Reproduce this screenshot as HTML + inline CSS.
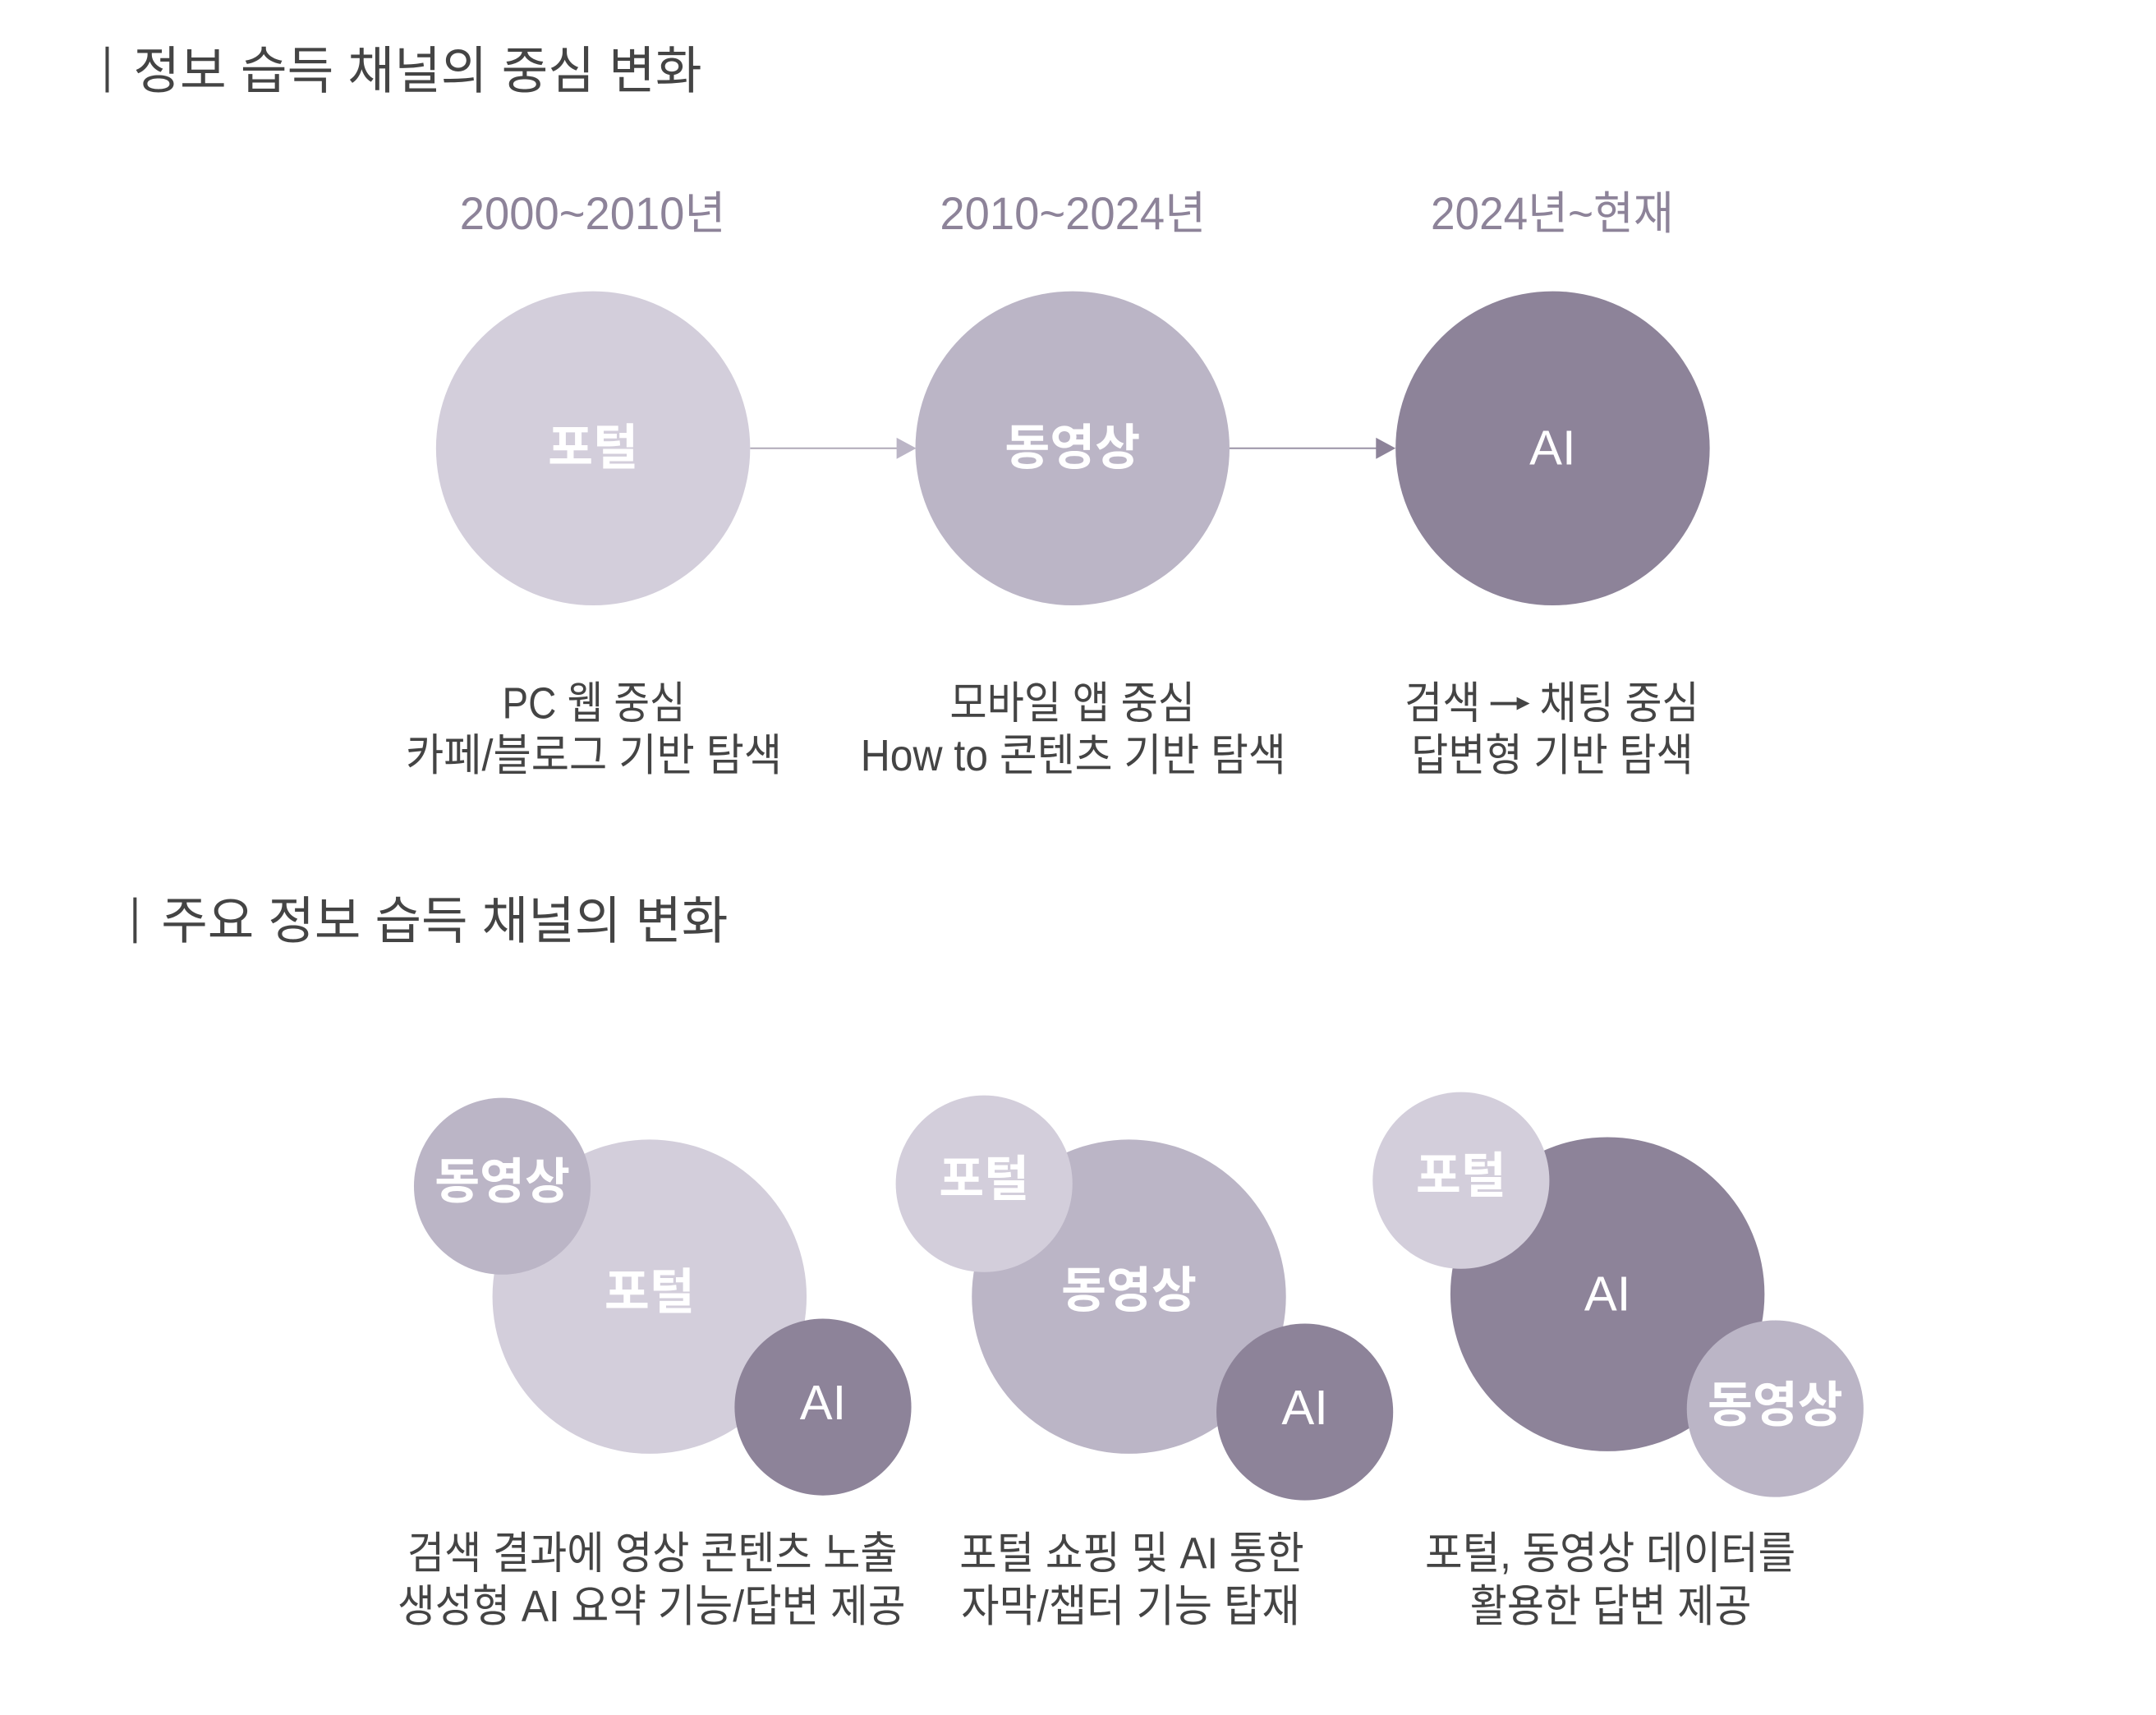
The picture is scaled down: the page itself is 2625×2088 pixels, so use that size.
<!DOCTYPE html>
<html><head><meta charset="utf-8">
<style>
html,body{margin:0;padding:0;background:#fff;}
svg{display:block;}
text{font-family:"Liberation Sans","Noto Sans CJK KR",sans-serif;}
.t{fill:#444;font-size:62px;}
.y{fill:#8d8399;font-size:56px;}
.c{fill:#444;font-size:54px;}
.w{fill:#fff;font-size:60px;font-weight:bold;}
</style></head>
<body>
<svg width="2625" height="2088" viewBox="0 0 2625 2088" xmlns="http://www.w3.org/2000/svg">
<rect width="2625" height="2088" fill="#fff"/>
<g transform="scale(0.996)">
<rect x="129" y="57" width="4" height="56" fill="#444"/>
<text class="t" x="163" y="108" textLength="695" lengthAdjust="spacingAndGlyphs">정보 습득 채널의 중심 변화</text>

<text class="y" x="562" y="280" textLength="325" lengthAdjust="spacingAndGlyphs">2000~2010년</text>
<text class="y" x="1149" y="280" textLength="325" lengthAdjust="spacingAndGlyphs">2010~2024년</text>
<text class="y" x="1749" y="280" textLength="297" lengthAdjust="spacingAndGlyphs">2024년~현재</text>

<line x1="917" y1="548" x2="1100" y2="548" stroke="#b0aab8" stroke-width="2"/>
<polygon points="1096,535 1120,548 1096,561" fill="#bbb5c6"/>
<line x1="1503" y1="548" x2="1686" y2="548" stroke="#9a92a6" stroke-width="2"/>
<polygon points="1682,535 1706,548 1682,561" fill="#8d8399"/>

<circle cx="725" cy="548" r="192" fill="#d3cedb"/>
<circle cx="1311" cy="548" r="192" fill="#bbb5c6"/>
<circle cx="1898" cy="548" r="192" fill="#8d8399"/>
<text class="w" x="725" y="568" text-anchor="middle">포털</text>
<text class="w" x="1311" y="568" text-anchor="middle">동영상</text>
<text class="w" x="1898" y="568" text-anchor="middle" style="font-weight:normal">AI</text>

<text class="c" x="614" y="878" textLength="224" lengthAdjust="spacingAndGlyphs">PC 웹 중심</text>
<text class="c" x="496" y="942" textLength="460" lengthAdjust="spacingAndGlyphs">카페/블로그 기반 탐색</text>
<text class="c" x="1161" y="878" textLength="300" lengthAdjust="spacingAndGlyphs">모바일 앱 중심</text>
<text class="c" x="1052" y="942" textLength="520" lengthAdjust="spacingAndGlyphs">How to 콘텐츠 기반 탐색</text>
<text class="c" x="1717" y="878" textLength="93" lengthAdjust="spacingAndGlyphs">검색</text>
<line x1="1822" y1="860" x2="1858" y2="860" stroke="#444" stroke-width="4"/>
<polygon points="1854,852 1870,860 1854,868" fill="#444"/>
<text class="c" x="1882" y="878" textLength="195" lengthAdjust="spacingAndGlyphs">채팅 중심</text>
<text class="c" x="1725" y="942" textLength="345" lengthAdjust="spacingAndGlyphs">답변형 기반 탐색</text>

<rect x="163" y="1097" width="4" height="56" fill="#444"/>
<text class="t" x="197" y="1147" textLength="693" lengthAdjust="spacingAndGlyphs">주요 정보 습득 채널의 변화</text>

<circle cx="794" cy="1585" r="192" fill="#d3cedb"/>
<circle cx="614" cy="1450" r="108" fill="#bbb5c6"/>
<circle cx="1006" cy="1720" r="108" fill="#8d8399"/>
<text class="w" x="794" y="1600" text-anchor="middle">포털</text>
<text class="w" x="614" y="1465" text-anchor="middle">동영상</text>
<text class="w" x="1006" y="1735" text-anchor="middle" style="font-weight:normal">AI</text>

<circle cx="1380" cy="1585" r="192" fill="#bbb5c6"/>
<circle cx="1203" cy="1447" r="108" fill="#d3cedb"/>
<circle cx="1595" cy="1726" r="108" fill="#8d8399"/>
<text class="w" x="1380" y="1598" text-anchor="middle">동영상</text>
<text class="w" x="1203" y="1462" text-anchor="middle">포털</text>
<text class="w" x="1595" y="1741" text-anchor="middle" style="font-weight:normal">AI</text>

<circle cx="1965" cy="1582" r="192" fill="#8d8399"/>
<circle cx="1786" cy="1443" r="108" fill="#d3cedb"/>
<circle cx="2170" cy="1722" r="108" fill="#bbb5c6"/>
<text class="w" x="1965" y="1602" text-anchor="middle" style="font-weight:normal">AI</text>
<text class="w" x="1786" y="1458" text-anchor="middle">포털</text>
<text class="w" x="2170" y="1738" text-anchor="middle">동영상</text>

<text class="c" x="498" y="1917" textLength="599" lengthAdjust="spacingAndGlyphs">검색 결과에 영상 콘텐츠 노출</text>
<text class="c" x="486" y="1982" textLength="621" lengthAdjust="spacingAndGlyphs">생성형 AI 요약 기능/답변 제공</text>
<text class="c" x="1173" y="1917" textLength="421" lengthAdjust="spacingAndGlyphs">포털 쇼핑 및 AI 통한</text>
<text class="c" x="1175" y="1982" textLength="414" lengthAdjust="spacingAndGlyphs">자막/챕터 기능 탑재</text>
<text class="c" x="1742" y="1917" textLength="453" lengthAdjust="spacingAndGlyphs">포털, 동영상 데이터를</text>
<text class="c" x="1797" y="1982" textLength="344" lengthAdjust="spacingAndGlyphs">활용한 답변 제공</text>
</g>
</svg>
</body></html>
